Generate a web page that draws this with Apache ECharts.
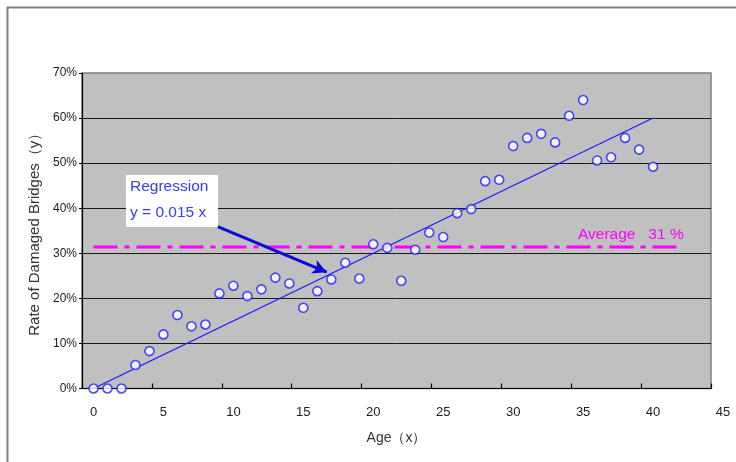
<!DOCTYPE html>
<html>
<head>
<meta charset="utf-8">
<script src="https://cdn.jsdelivr.net/npm/echarts/dist/echarts.min.js"></script>
<style>
  html, body { margin: 0; padding: 0; background: #ffffff; }
  #chart { width: 736px; height: 462px; }
</style>
</head>
<body>
<div id="chart"></div>
<script>
// ---- data ----
const ages = [0, 1, 2, 3, 4, 5, 6, 7, 8, 9, 10, 11, 12, 13, 14, 15, 16, 17, 18, 19, 20,
              21, 22, 23, 24, 25, 26, 27, 28, 29, 30, 31, 32, 33, 34, 35, 36, 37, 38, 39, 40];
const rates = [0, 0, 0, 5.2, 8.3, 12.0, 16.3, 13.8, 14.2, 21.1, 22.8, 20.5, 22.0, 24.6, 23.3, 17.9, 21.6, 24.2, 27.9, 24.4, 32.0,
               31.2, 23.9, 30.8, 34.6, 33.6, 38.9, 39.8, 46.0, 46.3, 53.8, 55.6, 56.5, 54.6, 60.5, 64.0, 50.6, 51.3, 55.6, 53.0, 49.2];
const regressionX = [0, 40];
const regressionY = [0, 60];
const averageValue = 31.4;
const averageRange = [0, 42];
const arrowFrom = [8.88, 35.9];
const arrowTo = [16.67, 25.8];
const xTickLabels = [0, 5, 10, 15, 20, 25, 30, 35, 40, 45];
const yTickLabels = [0, 10, 20, 30, 40, 50, 60, 70];
const xTitle = 'Age（x）';
const yTitle = 'Rate of Damaged Bridges（y）';
const regressionText = ['Regression', 'y = 0.015 x'];
const averageText = 'Average   31 %';

const scatterData = ages.map((a, i) => [a, rates[i]]);
const regressionData = regressionX.map((x, i) => [x, regressionY[i]]);
const averageData = averageRange.map(x => [x, averageValue]);

const FONT = 'Liberation Sans, Arial, sans-serif';
const chart = echarts.init(document.getElementById('chart'), null, { renderer: 'canvas' });

chart.setOption({
  animation: false,
  backgroundColor: '#ffffff',
  textStyle: { fontFamily: FONT },
  grid: [
    { left: 93.5, right: 13, top: 73, bottom: 73.5 },
    { left: 82, right: 25, top: 73, bottom: 73.5, show: true, backgroundColor: '#c0c0c0', borderColor: '#808080', borderWidth: 1.5, z: 0 }
  ],
  xAxis: [
    {
      gridIndex: 0, type: 'value', min: xTickLabels[0], max: xTickLabels[xTickLabels.length - 1], interval: 5,
      axisLine: { show: false }, axisTick: { show: false }, splitLine: { show: false },
      axisLabel: { margin: 17, color: '#1a1a1a', fontSize: 13, fontFamily: FONT }
    },
    {
      gridIndex: 1, type: 'value', min: 0, max: 9, interval: 1,
      axisLine: { show: true, lineStyle: { color: '#000', width: 1.2 } },
      axisTick: { show: true, inside: true, length: 5, lineStyle: { color: '#000', width: 1.2 } },
      axisLabel: { show: false }, splitLine: { show: false },
      name: xTitle, nameLocation: 'middle', nameGap: 43,
      nameTextStyle: { color: '#333', fontSize: 14, fontFamily: FONT }
    }
  ],
  yAxis: [
    { gridIndex: 0, type: 'value', min: 0, max: 70, show: false },
    {
      gridIndex: 1, type: 'value', min: yTickLabels[0], max: yTickLabels[yTickLabels.length - 1], interval: 10,
      axisLine: { show: true, lineStyle: { color: '#000', width: 1.2 } },
      axisTick: { show: true, length: 3, lineStyle: { color: '#000' } },
      axisLabel: { formatter: '{value}%', margin: 5, color: '#1a1a1a', fontSize: 12, fontFamily: FONT },
      splitLine: { show: true, showMaxLine: false, lineStyle: { color: '#1a1a1a', width: 1 } },
      name: yTitle, nameLocation: 'middle', nameGap: 39, nameRotate: 90,
      nameTextStyle: { color: '#333', fontSize: 15, fontFamily: FONT }
    }
  ],
  series: [
    {
      name: 'average', type: 'line', xAxisIndex: 0, yAxisIndex: 0, data: averageData,
      symbol: 'none', z: 3, silent: true,
      lineStyle: { color: '#ff00ff', width: 3, type: [24, 7, 5, 7] }
    },
    {
      name: 'regression', type: 'line', xAxisIndex: 0, yAxisIndex: 0, data: regressionData,
      symbol: 'none', z: 4, silent: true,
      lineStyle: { color: '#1a1aff', width: 1.2 },
      markLine: {
        silent: true, symbol: ['none', 'arrow'], symbolSize: [11, 14],
        label: { show: false },
        lineStyle: { color: '#0a0ad8', width: 3, type: 'solid' },
        data: [[{ coord: arrowFrom }, { coord: arrowTo }]]
      }
    },
    {
      name: 'damage', type: 'scatter', xAxisIndex: 0, yAxisIndex: 0, data: scatterData,
      symbol: 'circle', symbolSize: 9, z: 6,
      itemStyle: { color: '#ffffff', borderColor: '#2020ff', borderWidth: 1.6 }
    }
  ],
  graphic: [
    {
      type: 'rect', left: 5, top: 5, silent: true, z: -10,
      shape: { x: 0, y: 0, width: 760, height: 480 },
      style: { fill: 'none', stroke: '#808080', lineWidth: 2 }
    },
    {
      type: 'rect', left: 126, top: 175, z: 20,
      shape: { width: 92, height: 52 },
      style: { fill: '#ffffff' }
    },
    {
      type: 'text', left: 130, top: 179, z: 21,
      style: { text: regressionText[0], fill: '#3a3aff', fontSize: 15.5, fontFamily: FONT }
    },
    {
      type: 'text', left: 130, top: 205, z: 21,
      style: { text: regressionText[1], fill: '#3a3aff', fontSize: 15.5, fontFamily: FONT }
    },
    {
      type: 'text', left: 578, top: 227, z: 21,
      style: { text: averageText, fill: '#ff00ff', fontSize: 15.5, fontFamily: FONT }
    }
  ]
});
</script>
</body>
</html>
